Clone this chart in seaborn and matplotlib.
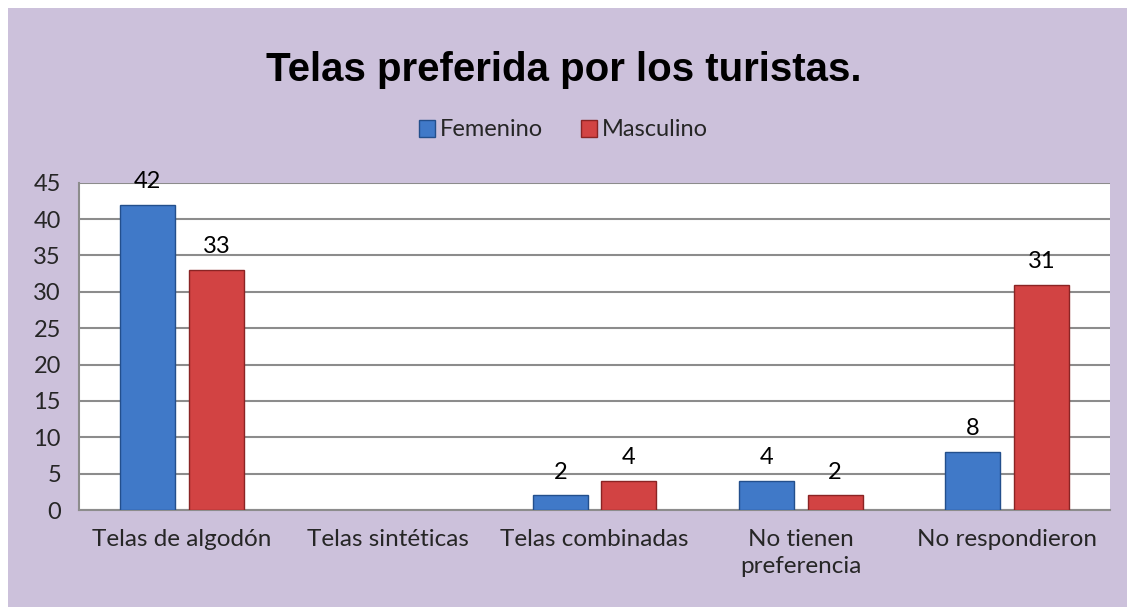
import pandas as pd
import numpy as np
import matplotlib.pyplot as plt
import seaborn as sns
from matplotlib.patches import Rectangle

# chart values
categorias = ["Telas de algodón", "Telas sintéticas", "Telas combinadas",
              "No tienen\npreferencia", "No respondieron"]
femenino = [42, np.nan, 2, 4, 8]
masculino = [33, np.nan, 4, 2, 31]
series = ["Femenino", "Masculino"]

data = pd.DataFrame({
    "categoria": categorias * 2,
    "valor": femenino + masculino,
    "sexo": [series[0]] * 5 + [series[1]] * 5,
})

sns.set_style("white")
plt.rcParams['font.family'] = ['Lato', 'DejaVu Sans']

fondo = "#CCC1DB"
colores = {"Femenino": "#4079C8", "Masculino": "#D24343"}
bordes = {"Femenino": "#234F8C", "Masculino": "#8A2424"}

fig = plt.figure(figsize=(11.27, 6.07), dpi=100)
fig.patch.set_facecolor("white")
fig.patches.append(Rectangle((8 / 1127, 0), 1, 1 - 8 / 607, transform=fig.transFigure,
                             facecolor=fondo, edgecolor="none", zorder=-10))

ax = fig.add_axes([0.0701, 0.1598, 0.915, 0.5392])
ax.set_facecolor("white")

sns.barplot(data=data, x="categoria", y="valor", hue="sexo", order=categorias,
            hue_order=series, palette=colores, saturation=1, width=0.665, gap=0.2,
            errorbar=None, ax=ax, zorder=3)

for cont, s in zip(ax.containers, series):
    for p in cont:
        p.set_edgecolor(bordes[s])
        p.set_linewidth(1.0)
    ax.bar_label(cont, fmt="%g", padding=9, fontsize=17, color="black")

ax.set_ylim(0, 45)
ax.set_yticks(range(0, 46, 5))
ax.set_xlim(-0.5, 4.5)
ax.yaxis.grid(True, color="#8C8C8C", linewidth=1.5, zorder=0)
ax.set_axisbelow(True)
for side in ["top", "right"]:
    ax.spines[side].set_visible(False)
ax.spines["left"].set_color("#8C8C8C")
ax.spines["bottom"].set_color("#8C8C8C")
ax.spines["left"].set_linewidth(1.5)
ax.spines["bottom"].set_linewidth(1.5)
ax.tick_params(axis="y", length=7, width=1.5, color="#8C8C8C", labelsize=17, pad=6)
ax.tick_params(axis="x", length=0, labelsize=17.5, pad=14)
for t in ax.get_xticklabels():
    t.set_linespacing(1.35)
ax.set_xlabel("")
ax.set_ylabel("")

ax.legend_.remove()
handles = [Rectangle((0, 0), 1, 1, facecolor=colores[s], edgecolor=bordes[s]) for s in series]
fig.legend(handles, series, loc="center", bbox_to_anchor=(0.5, 1 - 130 / 607),
           ncol=2, frameon=False, fontsize=17, handlelength=0.7, handleheight=0.7,
           handletextpad=0.2, columnspacing=1.6)

fig.text(0.5, 1 - 70 / 607, "Telas preferida por los turistas.", ha="center", va="center",
         fontsize=29, fontweight="bold", family="Liberation Sans", color="black")

fig.savefig("out.png", dpi=100, facecolor=fig.get_facecolor())
